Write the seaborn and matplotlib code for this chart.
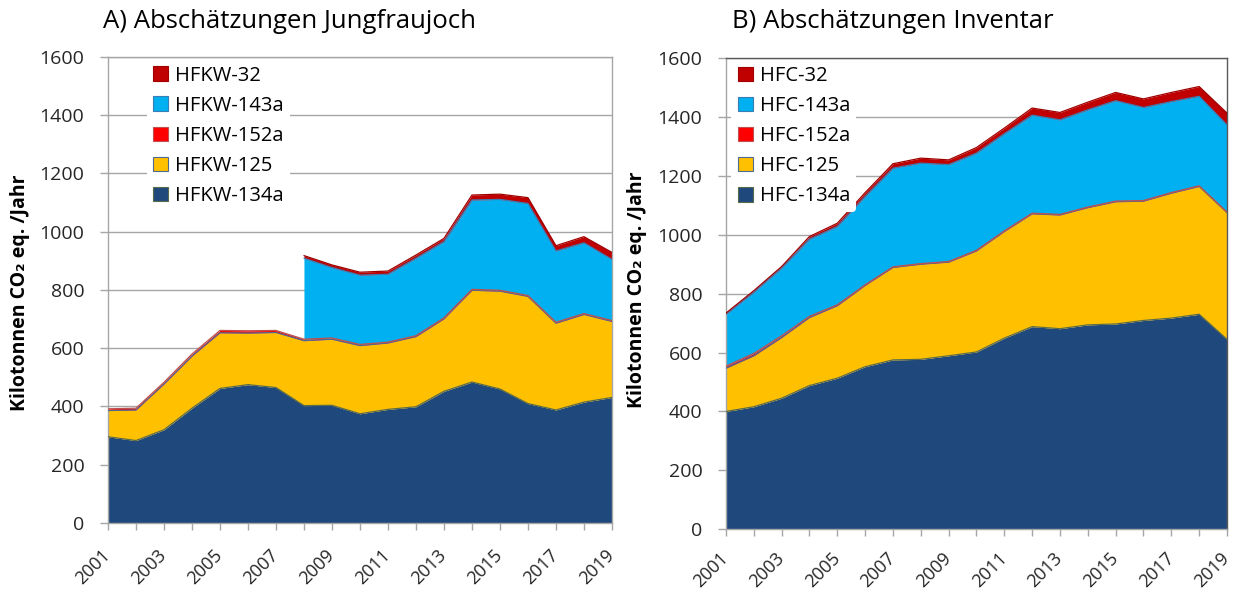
import numpy as np
import matplotlib
matplotlib.use("Agg")
import matplotlib.pyplot as plt
from matplotlib.patches import Patch
import seaborn as sns

years = list(range(2001, 2020))
nan = np.nan

# A) Jungfraujoch-based estimates, kt CO2 eq. per year
jf_134a = [296, 283, 320, 394, 462, 475, 465, 403, 404, 375, 390, 399, 452, 484, 460, 410, 388, 415, 431]
jf_125 = [90, 105, 157, 179, 191, 177, 189, 223, 227, 234, 228, 241, 249, 315, 336, 368, 298, 301, 261]
jf_152a = [6, 6, 6, 7, 8, 8, 7, 5, 4, 4, 3, 3, 3, 3, 3, 3, 3, 3, 3]
jf_143a = [nan, nan, nan, nan, nan, nan, nan, 278, 242, 238, 233, 266, 262, 307, 312, 316, 245, 243, 210]
jf_32 = [nan, nan, nan, nan, nan, nan, nan, 9, 9, 10, 11, 11, 11, 17, 18, 20, 18, 21, 24]

# B) Inventory estimates, kt CO2 eq. per year
inv_134a = [400, 416, 445, 488, 513, 552, 575, 577, 589, 602, 649, 688, 681, 694, 697, 709, 717, 730, 645]
inv_125 = [147, 173, 206, 231, 246, 276, 314, 323, 318, 343, 362, 383, 386, 398, 415, 405, 424, 434, 430]
inv_152a = [7, 8, 6, 4, 3, 2, 2, 2, 2, 2, 2, 2, 2, 2, 2, 2, 2, 2, 2]
inv_143a = [176, 208, 230, 262, 266, 300, 335, 341, 329, 330, 330, 333, 321, 330, 341, 316, 309, 304, 296]
inv_32 = [4, 5, 5, 9, 11, 13, 15, 17, 16, 19, 19, 24, 25, 26, 28, 29, 31, 33, 40]

labels_a = ["HFKW-134a", "HFKW-125", "HFKW-152a", "HFKW-143a", "HFKW-32"]
labels_b = ["HFC-134a", "HFC-125", "HFC-152a", "HFC-143a", "HFC-32"]

fills = ["#1F497D", "#FFC000", "#FF0000", "#00B0F0", "#C00000"]
edges = ["#5A6B4A", "#4F6A8F", "#C0504D", "#3A7DB5", "#A00000"]

sns.set_theme(style="white")
plt.rcParams["font.family"] = ["Open Sans", "DejaVu Sans"]
plt.rcParams["text.color"] = "#000000"

fig = plt.figure(figsize=(12.38, 5.91), dpi=100)
ax_a = fig.add_axes([0.0872, 0.1151, 0.4071, 0.7885])
ax_b = fig.add_axes([0.5864, 0.1044, 0.4047, 0.7975])


def draw_panel(ax, series, labels, legend_anchor, frame_color, xpad):
    x = np.array(years, dtype=float)
    base = np.zeros(len(years))
    for vals, fc, ec in zip(series, fills, edges):
        top = base + np.array(vals, dtype=float)
        ax.fill_between(x, base, top, color=fc, linewidth=0, zorder=2)
        sns.lineplot(x=x, y=top, color=ec, linewidth=0.9, ax=ax, zorder=3)
        base = top

    ax.set_xlim(2001, 2019)
    ax.set_ylim(0, 1600)
    ax.set_yticks(range(0, 1601, 200))
    ax.set_xticks(years)
    ax.set_xticklabels([str(y) if (y - 2001) % 2 == 0 else "" for y in years],
                       rotation=45, ha="right", va="center",
                       rotation_mode="anchor")
    ax.yaxis.grid(True, color="#A6A6A6", linewidth=1)
    ax.set_axisbelow(True)
    ax.set_xlabel("")
    ax.set_ylabel("")
    ax.tick_params(axis="y", left=True, direction="out", length=6, width=1,
                   color="#A6A6A6", labelsize=14, pad=11)
    ax.tick_params(axis="x", bottom=True, direction="out", length=5, width=1,
                   color="#A6A6A6", labelsize=13, pad=xpad)
    for side in ("left", "bottom"):
        ax.spines[side].set_color("#A6A6A6")
        ax.spines[side].set_linewidth(1)
    for side in ("top", "right"):
        ax.spines[side].set_color(frame_color)
        ax.spines[side].set_linewidth(1)

    handles = [Patch(facecolor=fc, edgecolor=ec, linewidth=0.8)
               for fc, ec in zip(fills, edges)]
    ax.legend(handles[::-1], labels[::-1], loc="upper left",
              bbox_to_anchor=legend_anchor, frameon=True, facecolor="white",
              edgecolor="none", framealpha=1, fontsize=14.5,
              handlelength=0.75, handleheight=0.75, handletextpad=0.35,
              labelspacing=0.5, borderpad=0.3, borderaxespad=0)


draw_panel(ax_a, [jf_134a, jf_125, jf_152a, jf_143a, jf_32], labels_a,
           (0.077, 0.994), "#A6A6A6", 16)
draw_panel(ax_b, [inv_134a, inv_125, inv_152a, inv_143a, inv_32], labels_b,
           (0.011, 0.996), "#595959", 14)

fig.text(103 / 1238, 1 - 22 / 591, "A) Abschätzungen Jungfraujoch",
         fontsize=18.5, ha="left", va="center")
fig.text(732 / 1238, 1 - 22 / 591, "B) Abschätzungen Inventar",
         fontsize=18.5, ha="left", va="center")

ylab = "Kilotonnen CO₂ eq. /Jahr"
fig.text(20 / 1238, 1 - 293 / 591, ylab, rotation=90, fontsize=14,
         fontweight="bold", ha="center", va="center")
fig.text(637 / 1238, 1 - 290 / 591, ylab, rotation=90, fontsize=14,
         fontweight="bold", ha="center", va="center")

fig.savefig("out.png", dpi=100, facecolor="white")
